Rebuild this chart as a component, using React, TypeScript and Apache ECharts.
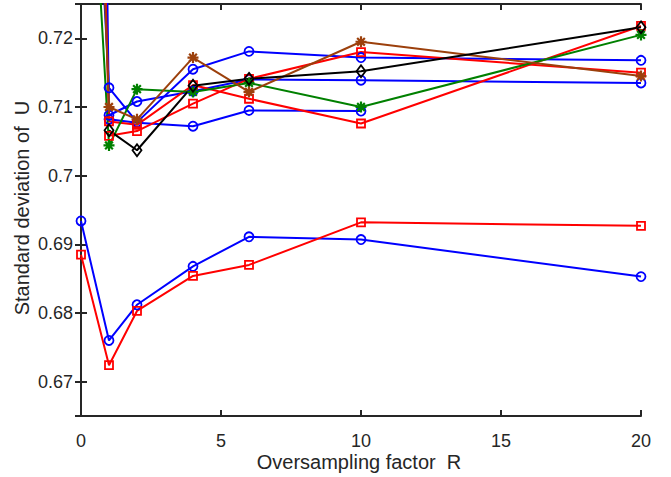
import React, { useEffect, useRef } from "react";
import * as echarts from "echarts";

const X = [0, 1, 2, 4, 6, 10, 20];

const blueA = [0.79, 0.7128, 0.7078, 0.7155, 0.7181, 0.7172, 0.7168];
const blueB = [1.0, 0.7088, 0.7108, 0.7123, 0.714, 0.7139, 0.7135];
const blueC = [null, 0.7082, 0.7077, 0.7072, 0.7095, 0.7094, null];
const redA = [0.86, 0.7079, 0.7074, 0.7132, 0.7112, 0.7076, 0.7218];
const redB = [null, 0.7058, 0.7065, 0.7105, 0.7141, 0.718, 0.715];
const greenS = [0.775, 0.7044, 0.7126, 0.7122, 0.7135, 0.71, 0.7205];
const brownS = [0.82, 0.71, 0.7082, 0.7172, 0.7122, 0.7195, 0.7145];
const blackS = [null, 0.7066, 0.7037, 0.7131, 0.7141, 0.7152, 0.7216];
const blueD = [0.6934, 0.676, 0.6812, 0.6868, 0.6911, 0.6907, 0.6853];
const redC = [0.6885, 0.6724, 0.6803, 0.6854, 0.687, 0.6932, 0.6927];

const X_TICKS = [0, 5, 10, 15, 20];
const X_TITLE = "Oversampling factor  R";
const Y_TITLE = "Standard deviation of  U";

const BLUE = "#0000ff";
const RED = "#ff0000";
const GREEN = "#008000";
const BROWN = "#9c400c";
const BLACK = "#000000";
const AXIS = "#262626";
const FONT = "Liberation Sans";

const ASTERISK =
  "path://M5 0 L5 10 M0 5 L10 5 M1.5 1.5 L8.5 8.5 M1.5 8.5 L8.5 1.5";

function mk(name: string, vals: (number | null)[], color: string, symbol: string, size: any, bw = 1.8) {
  const data = X.map((x, i) => [x, vals[i]]).filter((d) => d[1] != null);
  return {
    type: "line",
    name,
    data,
    symbol,
    symbolSize: size,
    showAllSymbol: true,
    clip: true,
    lineStyle: { color, width: 2 },
    itemStyle: { color: "transparent", borderColor: color, borderWidth: bw },
    emphasis: { disabled: true },
  };
}

export default function App() {
  const ref = useRef<HTMLDivElement>(null);
  useEffect(() => {
    if (!ref.current) return;
    const chart = echarts.init(ref.current, null, { renderer: "svg" });
    const axisLine = { show: true, lineStyle: { color: AXIS, width: 2 } };
    const axisTick = { show: true, inside: true, length: 6, lineStyle: { color: AXIS, width: 2 } };
    chart.setOption({
      animation: false,
      backgroundColor: "#ffffff",
      grid: { left: 81, right: 30, top: 4, bottom: 61, containLabel: false },
      xAxis: [
        {
          type: "value",
          min: 0,
          max: 20,
          interval: 5,
          axisLine,
          axisTick,
          splitLine: { show: false },
          axisLabel: {
            margin: 16,
            fontSize: 18,
            fontFamily: FONT,
            color: AXIS,
            customValues: X_TICKS,
          },
        },
        {
          type: "value",
          position: "top",
          min: 0,
          max: 20,
          interval: 5,
          axisLine,
          axisTick,
          splitLine: { show: false },
          axisLabel: { show: false },
        },
      ],
      yAxis: [
        {
          type: "value",
          min: 0.665,
          max: 0.725,
          splitNumber: 6,
          axisLine,
          axisTick,
          splitLine: { show: false },
          axisLabel: {
            margin: 8,
            fontSize: 18,
            fontFamily: FONT,
            color: AXIS,
            showMinLabel: false,
            showMaxLabel: false,
          },
        },
        {
          type: "value",
          position: "right",
          min: 0.665,
          max: 0.725,
          splitNumber: 6,
          axisLine,
          axisTick,
          splitLine: { show: false },
          axisLabel: { show: false },
        },
      ],
      graphic: [
        {
          type: "text",
          x: 359,
          y: 462,
          style: {
            text: X_TITLE,
            fontSize: 20,
            fontFamily: FONT,
            fill: AXIS,
            align: "center",
            verticalAlign: "middle",
          },
        },
        {
          type: "text",
          x: 22,
          y: 208,
          rotation: Math.PI / 2,
          style: {
            text: Y_TITLE,
            fontSize: 20,
            fontFamily: FONT,
            fill: AXIS,
            align: "center",
            verticalAlign: "middle",
          },
        },
      ],
      series: [
        mk("blueD", blueD, BLUE, "circle", 9),
        mk("redC", redC, RED, "rect", 8),
        mk("blueC", blueC, BLUE, "circle", 9),
        mk("blueB", blueB, BLUE, "circle", 9),
        mk("blueA", blueA, BLUE, "circle", 9),
        mk("redB", redB, RED, "rect", 8),
        mk("redA", redA, RED, "rect", 8),
        mk("green", greenS, GREEN, ASTERISK, 11, 2.2),
        mk("brown", brownS, BROWN, ASTERISK, 11, 2.2),
        mk("black", blackS, BLACK, "diamond", [9, 12]),
      ],
    });
    return () => chart.dispose();
  }, []);
  return (
    <div
      ref={ref}
      style={{ position: "fixed", left: 0, top: 0, width: 671, height: 477, background: "#fff" }}
    />
  );
}
